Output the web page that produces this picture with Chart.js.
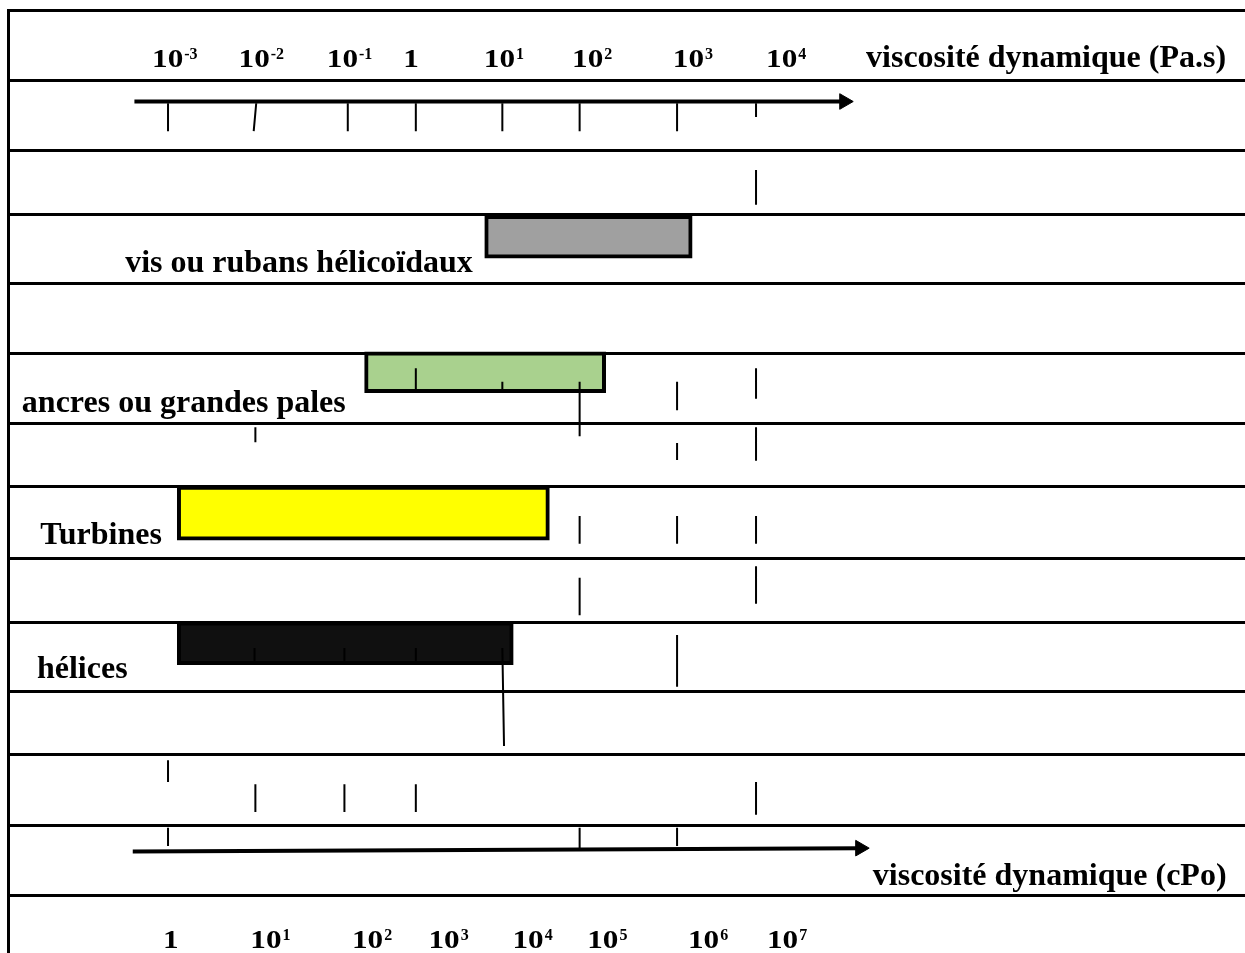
<!DOCTYPE html>
<html lang="fr">
<head>
<meta charset="utf-8">
<title>Choix de l'agitateur selon la viscosité</title>
<script src="https://cdn.jsdelivr.net/npm/chart.js@4.4.0/dist/chart.umd.min.js"></script>
<style>
  html, body { margin: 0; padding: 0; background: #fff; }
  #cadre { width: 1245px; height: 953px; }
</style>
</head>
<body>
<div id="cadre"><canvas id="graphe" width="1245" height="953"></canvas></div>
<script>
// axe horizontal : position en décades de Pa.s (0 = 1 Pa.s), relevée sur la figure
// axe vertical : rangées du tableau (0 = trait du haut)

const agitateurs = ['vis ou rubans hélicoïdaux', 'ancres ou grandes pales', 'Turbines', 'hélices'];
const plageMin = [0.77, -0.66, -2.89, -2.89];
const plageMax = [3.24, 2.21, 1.54, 1.11];
const rangeeBarre = [3.33, 5.32, 7.39, 9.30];
const couleurs = ['#a0a0a0', '#a9d18e', '#ffff00', '#101010'];
const epaisseurs = [43, 41, 54, 43];

// étiquettes des agitateurs (bord gauche, ligne de base)
const etiquetteX = [-3.51, -4.74, -4.52, -4.56];
const etiquetteRang = [3.85, 5.90, 7.84, 9.81];

// traits horizontaux du tableau
const traitsTableau = [0, 1.03, 2.06, 3.0, 4.01, 5.05, 6.08, 7.0, 8.05, 8.99, 10.01, 10.93, 11.98, 13.0];

// graduations du haut (Pa.s) et du bas (cPo)
const graduationsPaS = ['10^-3', '10^-2', '10^-1', '1', '10^1', '10^2', '10^3', '10^4'];
const graduationsPaSX = [-3.19, -2.16, -1.11, -0.20, 0.76, 1.81, 3.01, 4.12];
const graduationsCPo = ['1', '10^1', '10^2', '10^3', '10^4', '10^5', '10^6', '10^7'];
const graduationsCPoX = [-3.06, -2.02, -0.81, 0.10, 1.10, 1.99, 3.19, 4.13];
const titreHaut = 'viscosité dynamique (Pa.s)';
const titreBas = 'viscosité dynamique (cPo)';

// petits traits verticaux : [x haut, rang haut, x bas, rang bas]
const reperes = [
  [-3, 1.37, -3, 1.78], [-1.95, 1.37, -1.98, 1.78], [-0.86, 1.37, -0.86, 1.78],
  [-0.05, 1.37, -0.05, 1.78], [0.98, 1.37, 0.98, 1.78], [1.9, 1.37, 1.9, 1.78],
  [3.06, 1.37, 3.06, 1.78], [4, 1.37, 4, 1.57],
  [4, 2.35, 4, 2.86],
  [-0.05, 5.26, -0.05, 5.61], [0.98, 5.46, 0.98, 5.61], [1.9, 5.46, 1.9, 6.26],
  [3.06, 5.46, 3.06, 5.88], [4, 5.26, 4, 5.71],
  [-1.96, 6.13, -1.96, 6.35], [3.06, 6.36, 3.06, 6.61], [4, 6.13, 4, 6.62],
  [1.9, 7.43, 1.9, 7.84], [3.06, 7.43, 3.06, 7.84], [4, 7.43, 4, 7.84],
  [1.9, 8.34, 1.9, 8.89], [4, 8.17, 4, 8.72],
  [-1.97, 9.37, -1.97, 9.58], [-0.9, 9.37, -0.9, 9.58], [-0.05, 9.37, -0.05, 9.58],
  [0.98, 9.37, 1.0, 10.81], [3.06, 9.18, 3.06, 9.94],
  [-3, 11.02, -3, 11.34], [-1.96, 11.37, -1.96, 11.78], [-0.9, 11.37, -0.9, 11.78],
  [-0.05, 11.37, -0.05, 11.78], [4, 11.34, 4, 11.82],
  [-3, 12.01, -3, 12.28], [1.9, 12.01, 1.9, 12.31], [3.06, 12.01, 3.06, 12.28]
];

// flèches des deux axes : [x début, rang début, x pointe, rang pointe]
const flecheHaut = [-3.4, 1.344, 5.05, 1.344];
const flecheBas = [-3.42, 12.36, 5.24, 12.31];

const serif = '"Liberation Serif", "Times New Roman", serif';

function ecritPuissance(ctx, texte, x, y) {
  const [base, exposant] = texte.split('^');
  ctx.save();
  ctx.translate(x, y);
  ctx.scale(1.2, 1);
  ctx.font = 'bold 26px ' + serif;
  ctx.fillText(base, 0, 0);
  const largeur = ctx.measureText(base).width * 1.2;
  ctx.restore();
  if (exposant) {
    ctx.font = 'bold 16px ' + serif;
    ctx.fillText(exposant, x + largeur + 1, y - 8);
  }
}

const textes = {
  id: 'textes',
  afterDatasetsDraw(chart) {
    const { ctx, scales: { x, y } } = chart;
    ctx.save();
    ctx.fillStyle = '#000';
    ctx.textBaseline = 'alphabetic';
    ctx.textAlign = 'left';

    ctx.font = 'bold 32px ' + serif;
    agitateurs.forEach((nom, i) => {
      ctx.fillText(nom, x.getPixelForValue(etiquetteX[i]), y.getPixelForValue(etiquetteRang[i]));
    });
    ctx.fillText(titreHaut, x.getPixelForValue(5.31), y.getPixelForValue(0.842));
    ctx.fillText(titreBas, x.getPixelForValue(5.39), y.getPixelForValue(12.85));

    graduationsPaS.forEach((g, i) => {
      ecritPuissance(ctx, g, x.getPixelForValue(graduationsPaSX[i]), y.getPixelForValue(0.842));
    });
    graduationsCPo.forEach((g, i) => {
      ecritPuissance(ctx, g, x.getPixelForValue(graduationsCPoX[i]), y.getPixelForValue(13.78));
    });
    ctx.restore();
  }
};

const barres = agitateurs.map((nom, i) => ({
  type: 'bar',
  label: nom,
  indexAxis: 'y',
  grouped: false,
  data: [{ x: [plageMin[i], plageMax[i]], y: rangeeBarre[i] }],
  barThickness: epaisseurs[i],
  backgroundColor: couleurs[i],
  borderColor: '#000',
  borderWidth: 4,
  borderSkipped: false,
  order: 3
}));

const segments = {
  type: 'line',
  label: 'repères',
  data: reperes.flatMap(([x1, r1, x2, r2]) => [{ x: x1, y: r1 }, { x: x2, y: r2 }, { x: x2, y: null }]),
  borderColor: '#000',
  borderWidth: 2,
  pointRadius: 0,
  spanGaps: false,
  order: 1
};

function fleche(f) {
  return {
    type: 'line',
    label: 'axe',
    data: [{ x: f[0], y: f[1] }, { x: f[2], y: f[3] }],
    borderColor: '#000',
    borderWidth: 4,
    pointRadius: [0, 9],
    pointStyle: 'triangle',
    rotation: 90,
    pointBackgroundColor: '#000',
    pointBorderColor: '#000',
    pointBorderWidth: 1,
    order: 0
  };
}

new Chart(document.getElementById('graphe'), {
  type: 'line',
  data: { datasets: [...barres, segments, fleche(flecheHaut), fleche(flecheBas)] },
  options: {
    responsive: false,
    devicePixelRatio: 1,
    animation: false,
    layout: { autoPadding: false, padding: { top: 10, left: 8, right: 0, bottom: 0 } },
    plugins: { legend: { display: false }, tooltip: { enabled: false } },
    events: [],
    scales: {
      x: { type: 'linear', min: -4.905, max: 9.821, offset: false, display: false },
      y: {
        type: 'linear',
        reverse: true,
        min: 0,
        max: 13.85,
        offset: false,
        afterBuildTicks: (axe) => { axe.ticks = traitsTableau.map(v => ({ value: v })); },
        ticks: { display: false },
        grid: { color: '#000', lineWidth: 3, drawTicks: false, offset: false },
        border: { display: true, color: '#000', width: 3 }
      }
    }
  },
  plugins: [textes]
});
</script>
</body>
</html>
